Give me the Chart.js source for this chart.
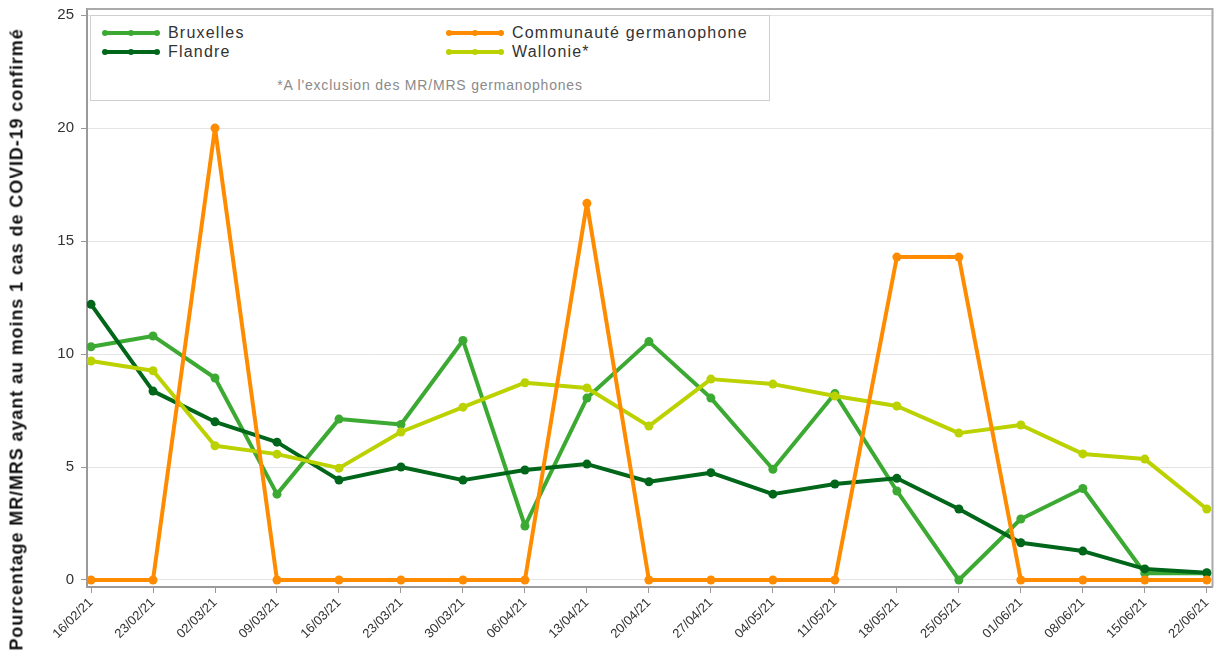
<!DOCTYPE html>
<html>
<head>
<meta charset="utf-8">
<script src="https://cdn.jsdelivr.net/npm/chart.js@4/dist/chart.umd.min.js"></script>
<style>
  body { margin: 0; background: #fff; font-family: "Liberation Sans", Arial, sans-serif; }
  #wrap { position: relative; width: 1217px; height: 656px; }
  #legend { position: absolute; left: 90px; top: 15px; width: 678px; height: 84px; border: 1px solid #cfcfcf; background: #fff; }
  .item { position: absolute; font-size: 16px; letter-spacing: 1.2px; color: #333; line-height: 18px; white-space: nowrap; }
  .item svg { position: absolute; left: 0; top: 3px; }
  .item span { position: absolute; left: 66px; top: 0; }
  #note { position: absolute; left: 0; width: 678px; top: 61px; text-align: center; font-size: 14px; letter-spacing: 0.8px; color: #8a8a8a; }
  #ytitle { position: absolute; width: 700px; left: -333px; top: 329px; text-align: center; transform: rotate(-90deg);
            font-weight: bold; font-size: 18px; letter-spacing: 0.9px; color: #111; white-space: nowrap; }
</style>
</head>
<body>
<div id="wrap">
  <canvas id="chart" width="1217" height="656"></canvas>
  <div id="legend"><div id="note">*A l'exclusion des MR/MRS germanophones</div></div>
  <div id="ytitle">Pourcentage MR/MRS ayant au moins 1 cas de COVID-19 confirmé</div>
</div>
<script>
const dates = ["16/02/21", "23/02/21", "02/03/21", "09/03/21", "16/03/21", "23/03/21", "30/03/21",
  "06/04/21", "13/04/21", "20/04/21", "27/04/21", "04/05/21", "11/05/21", "18/05/21", "25/05/21",
  "01/06/21", "08/06/21", "15/06/21", "22/06/21"];

const bruxelles = [10.32, 10.8, 8.94, 3.8, 7.12, 6.88, 10.6, 2.39, 8.05, 10.55, 8.05, 4.9, 8.25, 3.94, 0, 2.7, 4.05, 0.3, 0.3];
const flandre = [12.2, 8.36, 7.0, 6.1, 4.42, 5.0, 4.42, 4.87, 5.13, 4.35, 4.75, 3.8, 4.25, 4.5, 3.14, 1.65, 1.28, 0.49, 0.32];
const germanophone = [0, 0, 20, 0, 0, 0, 0, 0, 16.67, 0, 0, 0, 0, 14.29, 14.29, 0, 0, 0, 0];
const wallonie = [9.69, 9.26, 5.94, 5.57, 4.95, 6.55, 7.65, 8.73, 8.5, 6.81, 8.89, 8.67, 8.14, 7.7, 6.5, 6.86, 5.58, 5.35, 3.14];

const yTicks = [0, 5, 10, 15, 20, 25];

const seriesNames = ["Bruxelles", "Flandre", "Communauté germanophone", "Wallonie*"];
const seriesColors = ["#3caa32", "#00661a", "#ff8c00", "#bcd200"];
const seriesData = [bruxelles, flandre, germanophone, wallonie];
// drawing order: orange on top, Bruxelles at the bottom
const seriesOrder = [3, 2, 0, 1];

// legend (html, 2 columns)
const legendNode = document.getElementById("legend");
const legendPos = [[11, 8], [11, 27], [355, 8], [355, 27]];
seriesNames.forEach((name, i) => {
  const c = seriesColors[i];
  const div = document.createElement("div");
  div.className = "item";
  div.style.left = legendPos[i][0] + "px";
  div.style.top = legendPos[i][1] + "px";
  div.innerHTML =
    `<svg width="58" height="12"><line x1="3" y1="6" x2="55" y2="6" stroke="${c}" stroke-width="4"/>` +
    `<circle cx="3" cy="6" r="3" fill="${c}"/><circle cx="29" cy="6" r="3" fill="${c}"/>` +
    `<circle cx="55" cy="6" r="3" fill="${c}"/></svg><span>${name}</span>`;
  legendNode.appendChild(div);
});

const framePlugin = {
  id: "frame",
  beforeDatasetsDraw(chart) {
    const { ctx, chartArea } = chart;
    ctx.save();
    ctx.strokeStyle = "#a9a9a9";
    ctx.lineWidth = 2;
    ctx.beginPath();
    ctx.moveTo(chartArea.left, chartArea.top);
    ctx.lineTo(chartArea.right, chartArea.top);
    ctx.lineTo(chartArea.right, chartArea.bottom);
    ctx.stroke();
    ctx.restore();
  },
};

const datasets = seriesNames.map((name, i) => ({
  label: name,
  data: seriesData[i].map((v, j) => ({ x: j, y: v })),
  borderColor: seriesColors[i],
  backgroundColor: seriesColors[i],
  pointBackgroundColor: seriesColors[i],
  borderWidth: 4,
  borderJoinStyle: "round",
  borderCapStyle: "round",
  pointRadius: 4.5,
  pointBorderWidth: 0,
  tension: 0,
  order: seriesOrder[i],
}));

new Chart(document.getElementById("chart"), {
  type: "line",
  data: { datasets },
  options: {
    responsive: false,
    animation: false,
    layout: { padding: 0 },
    plugins: { legend: { display: false }, tooltip: { enabled: false } },
    scales: {
      x: {
        type: "linear",
        min: -0.065,
        max: 18.092,
        afterBuildTicks: (scale) => {
          scale.ticks = dates.map((d, i) => ({ value: i }));
        },
        afterFit: (scale) => {
          scale.height = 69;
          scale.paddingLeft = 0;
          scale.paddingRight = 1;
        },
        ticks: {
          autoSkip: false,
          minRotation: 45,
          maxRotation: 45,
          padding: 2,
          color: "#333",
          font: { family: "Liberation Sans", size: 13 },
          callback: (v) => dates[v],
        },
        grid: { drawOnChartArea: false, color: "#9a9a9a", tickLength: 6 },
        border: { color: "#9a9a9a", width: 2 },
      },
      y: {
        min: -0.31,
        max: 25.27,
        afterBuildTicks: (scale) => {
          scale.ticks = yTicks.map((v) => ({ value: v }));
        },
        afterFit: (scale) => {
          scale.width = 87;
          scale.paddingTop = 9;
          scale.paddingBottom = 0;
        },
        ticks: {
          padding: 7,
          color: "#333",
          font: { family: "Liberation Sans", size: 15 },
        },
        grid: { color: "#e4e4e4", tickColor: "#9a9a9a", tickLength: 6 },
        border: { color: "#9a9a9a", width: 2 },
      },
    },
  },
  plugins: [framePlugin],
});
</script>
</body>
</html>
